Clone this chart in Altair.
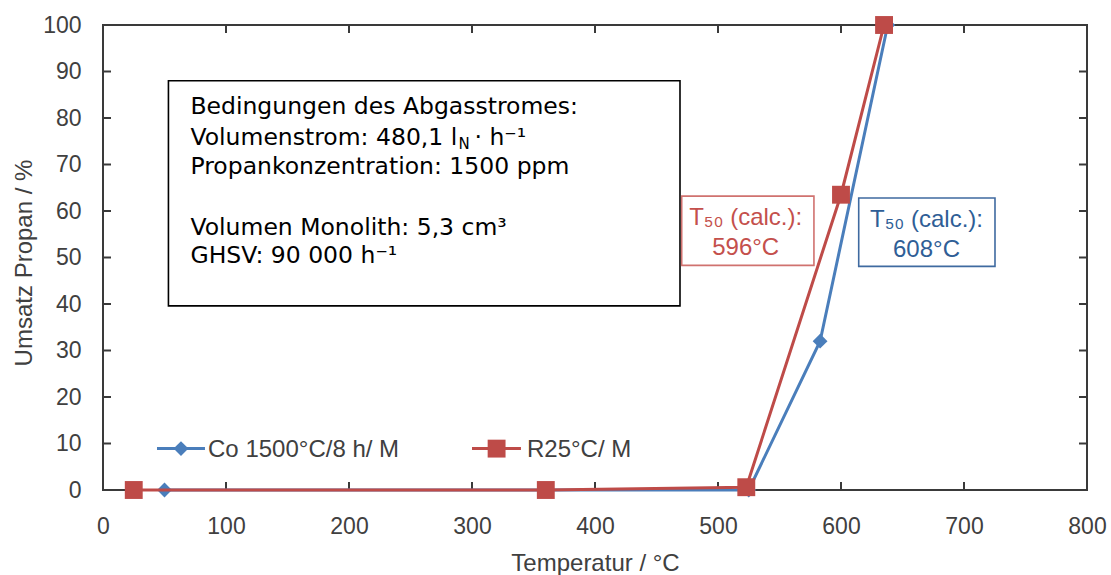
import altair as alt
import pandas as pd

# ---------------- data ----------------
co_temp = [50, 360, 525, 583, 638]
co_conv = [0, 0, 0, 32, 100]
r_temp = [25, 360, 523, 600, 635]
r_conv = [0, 0, 0.6, 63.5, 100]

x_ticks = [0, 100, 200, 300, 400, 500, 600, 700, 800]
y_ticks = [0, 10, 20, 30, 40, 50, 60, 70, 80, 90, 100]

series_names = ["Co 1500°C/8 h/ M", "R25°C/ M"]

info_lines = [
    "Bedingungen des Abgasstromes:",
    "Volumenstrom: 480,1 l",
    "Propankonzentration: 1500 ppm",
    "Volumen Monolith: 5,3 cm³",
    "GHSV: 90 000 h⁻¹",
]
info_line_y = [80.9, 74.3, 67.9, 54.85, 48.9]
info_x = 71.1
sub_N = "N"
after_N = " · h⁻¹"

t50_red = ["T₅₀ (calc.):", "596°C"]
t50_blue = ["T₅₀ (calc.):", "608°C"]

# ---------------- styling ----------------
W, H = 984, 465
BLUE = "#4a7ebb"
RED = "#be4b48"
AX = "#404040"
FRAME = "#3a3a3a"
LF = "Liberation Sans"
BOXF = "DejaVu Sans"
BOXFS = 23.5

xsc = alt.Scale(domain=[0, 800], nice=False, zero=False)
ysc = alt.Scale(domain=[0, 100], nice=False, zero=False)

xaxis = alt.Axis(values=x_ticks, ticks=False, domain=False, grid=False,
                 labelFont=LF, labelFontSize=23, labelColor=AX, labelPadding=25,
                 labelFlush=False, labelOverlap=False,
                 title="Temperatur / °C", titleFont=LF, titleFontSize=24,
                 titleFontWeight="normal", titleColor=AX,
                 titleY=80, titleBaseline="alphabetic")
yaxis = alt.Axis(values=y_ticks, ticks=False, domain=False, grid=False,
                 labelFont=LF, labelFontSize=23, labelColor=AX, labelPadding=22,
                 labelFlush=False, labelOverlap=False,
                 title="Umsatz Propan / %", titleFont=LF, titleFontSize=24,
                 titleFontWeight="normal", titleColor=AX,
                 titleX=-72, titleY=H / 2 + 5, titleAngle=270,
                 titleBaseline="alphabetic", titleAlign="center")

X = alt.X("x:Q", scale=xsc, axis=xaxis)
Y = alt.Y("y:Q", scale=ysc, axis=yaxis)

# ---------------- tick marks (inward, all four sides) ----------------
xt = pd.DataFrame({"x": x_ticks[1:-1]})
yt = pd.DataFrame({"y": y_ticks[1:-1]})
tick_b = alt.Chart(xt).mark_rule(color=FRAME, strokeWidth=2).encode(
    x=X, y=alt.value(H), y2=alt.value(H - 8))
tick_t = alt.Chart(xt).mark_rule(color=FRAME, strokeWidth=2).encode(
    x=X, y=alt.value(0), y2=alt.value(8))
tick_l = alt.Chart(yt).mark_rule(color=FRAME, strokeWidth=2).encode(
    y=Y, x=alt.value(0), x2=alt.value(8))
tick_r = alt.Chart(yt).mark_rule(color=FRAME, strokeWidth=2).encode(
    y=Y, x=alt.value(W), x2=alt.value(W - 8))

# ---------------- info box ----------------
box_df = pd.DataFrame({"x": [53.2], "x2": [469.1], "y": [88.0], "y2": [39.6]})
info_box = alt.Chart(box_df).mark_rect(fill="white", stroke="black", strokeWidth=1.6).encode(
    x=X, x2="x2:Q", y=Y, y2="y2:Q")

info_df = pd.DataFrame({"x": [info_x] * len(info_lines), "y": info_line_y, "t": info_lines})
info_txt = alt.Chart(info_df).mark_text(align="left", baseline="alphabetic", font=BOXF,
                                       fontSize=BOXFS, color="black").encode(
    x=X, y=Y, text="t:N")
n_df = pd.DataFrame({"x": [info_x], "y": [info_line_y[1]], "t": [sub_N]})
n_txt = alt.Chart(n_df).mark_text(align="left", baseline="alphabetic", font=BOXF,
                                 fontSize=15, color="black", dx=268, dy=4).encode(
    x=X, y=Y, text="t:N")
a_df = pd.DataFrame({"x": [info_x], "y": [info_line_y[1]], "t": [after_N]})
a_txt = alt.Chart(a_df).mark_text(align="left", baseline="alphabetic", font=BOXF,
                                 fontSize=BOXFS, color="black", dx=284).encode(
    x=X, y=Y, text="t:N")

# ---------------- T50 annotations ----------------
rb = pd.DataFrame({"x": [470.5], "x2": [578.0], "y": [63.2], "y2": [48.3]})
bb = pd.DataFrame({"x": [614.4], "x2": [725.2], "y": [62.8], "y2": [48.1]})
red_box = alt.Chart(rb).mark_rect(fill="white", stroke="#d0726f", strokeWidth=1.6).encode(
    x=X, x2="x2:Q", y=Y, y2="y2:Q")
blue_box = alt.Chart(bb).mark_rect(fill="white", stroke="#3f6aa0", strokeWidth=1.6).encode(
    x=X, x2="x2:Q", y=Y, y2="y2:Q")
rt_df = pd.DataFrame({"x": [522.5, 522.5], "y": [56.9, 50.5], "t": t50_red})
bt_df = pd.DataFrame({"x": [669.5, 669.5], "y": [56.6, 50.1], "t": t50_blue})
red_t = alt.Chart(rt_df).mark_text(align="center", baseline="alphabetic", font=LF,
                                  fontSize=24, color="#c4504c").encode(x=X, y=Y, text="t:N")
blue_t = alt.Chart(bt_df).mark_text(align="center", baseline="alphabetic", font=LF,
                                   fontSize=24, color="#2f5e96").encode(x=X, y=Y, text="t:N")

# ---------------- series ----------------
co_df = pd.DataFrame({"x": co_temp, "y": co_conv})
r_df = pd.DataFrame({"x": r_temp, "y": r_conv})
co_line = alt.Chart(co_df).mark_line(color=BLUE, strokeWidth=3).encode(x=X, y=Y)
co_pts = alt.Chart(co_df).mark_point(shape="diamond", filled=True, opacity=1,
                                     color=BLUE, size=220).encode(x=X, y=Y)
r_line = alt.Chart(r_df).mark_line(color=RED, strokeWidth=3).encode(x=X, y=Y)
r_pts = alt.Chart(r_df).mark_point(shape="square", filled=True, opacity=1,
                                   color=RED, size=320).encode(x=X, y=Y)

# ---------------- legend ----------------
lg_y = 8.9
lgb_line = alt.Chart(pd.DataFrame({"x": [43.9], "x2": [82.9], "y": [lg_y]})).mark_rule(
    color=BLUE, strokeWidth=3).encode(x=X, x2="x2:Q", y=Y)
lgb_pt = alt.Chart(pd.DataFrame({"x": [63.4], "y": [lg_y]})).mark_point(
    shape="diamond", filled=True, opacity=1, color=BLUE, size=220).encode(x=X, y=Y)
lgr_line = alt.Chart(pd.DataFrame({"x": [300.0], "x2": [339.8], "y": [lg_y]})).mark_rule(
    color=RED, strokeWidth=3).encode(x=X, x2="x2:Q", y=Y)
lgr_pt = alt.Chart(pd.DataFrame({"x": [320.0], "y": [lg_y]})).mark_point(
    shape="square", filled=True, opacity=1, color=RED, size=320).encode(x=X, y=Y)
lg_txt = alt.Chart(pd.DataFrame({"x": [85.4, 344.7], "y": [7.1, 7.1], "t": series_names})).mark_text(
    align="left", baseline="alphabetic", font=LF, fontSize=24, color=AX).encode(
    x=X, y=Y, text="t:N")

chart = alt.layer(
    tick_b, tick_t, tick_l, tick_r,
    info_box, info_txt, n_txt, a_txt,
    red_box, blue_box, red_t, blue_t,
    co_line, co_pts, r_line, r_pts,
    lgb_line, lgb_pt, lgr_line, lgr_pt, lg_txt,
).properties(
    width=W, height=H,
    autosize=alt.AutoSizeParams(type="none"),
    padding={"left": 103, "top": 25, "right": 24, "bottom": 85},
    background="white",
).configure_view(stroke=FRAME, strokeWidth=2)

chart.save("out.html", embed_options={"renderer": "svg", "actions": False})
